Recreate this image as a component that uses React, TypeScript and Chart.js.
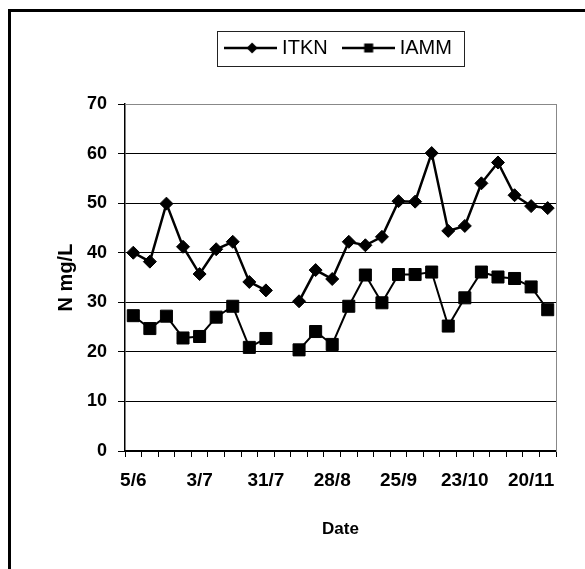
import React, { useEffect, useRef } from 'react';
import { Chart, registerables } from 'chart.js';

Chart.register(...registerables);

// Weekly sampling dates (category axis)
const dates = [
  '5/6', '12/6', '19/6', '26/6', '3/7', '10/7', '17/7', '24/7', '31/7', '7/8',
  '14/8', '21/8', '28/8', '4/9', '11/9', '18/9', '25/9', '2/10', '9/10', '16/10',
  '23/10', '30/10', '6/11', '13/11', '20/11', '27/11',
];

// N mg/L
const itkn = [
  40.0, 38.2, 49.9, 41.2, 35.7, 40.7, 42.2, 34.1, 32.4, null,
  30.2, 36.5, 34.7, 42.2, 41.5, 43.2, 50.4, 50.3, 60.1, 44.4,
  45.4, 54.0, 58.2, 51.6, 49.4, 49.0,
];
const iamm = [
  27.3, 24.7, 27.2, 22.8, 23.1, 27.0, 29.2, 20.9, 22.7, null,
  20.4, 24.1, 21.5, 29.2, 35.5, 29.9, 35.6, 35.6, 36.1, 25.2,
  30.9, 36.1, 35.1, 34.8, 33.1, 28.5,
];

const seriesNames = ['ITKN', 'IAMM'];
const yMin = 0;
const yMax = 70;
const yStep = 10;
const labelEvery = 4;
const xTitle = 'Date';
const yTitle = 'N mg/L';

const FONT = "'Liberation Sans', Arial, Helvetica, sans-serif";

function makeIcon(kind: 'diamond' | 'square', lw: number): HTMLCanvasElement {
  const c = document.createElement('canvas');
  c.width = 53;
  c.height = 14;
  const g = c.getContext('2d')!;
  g.strokeStyle = '#000';
  g.lineWidth = lw;
  g.beginPath();
  g.moveTo(0, 7);
  g.lineTo(53, 7);
  g.stroke();
  g.fillStyle = '#000';
  if (kind === 'diamond') {
    g.beginPath();
    g.moveTo(28, 1.5);
    g.lineTo(33.5, 7);
    g.lineTo(28, 12.5);
    g.lineTo(22.5, 7);
    g.closePath();
    g.fill();
  } else {
    g.fillRect(22.5, 2.5, 9, 9);
  }
  return c;
}

const framePlugin = {
  id: 'frame',
  beforeDraw(chart: any) {
    const ctx = chart.ctx;
    ctx.save();
    ctx.fillStyle = '#fff';
    ctx.fillRect(0, 0, chart.width, chart.height);
    ctx.fillStyle = '#000';
    ctx.fillRect(8, 9, 3, chart.height - 9);
    ctx.fillRect(8, 9, chart.width - 8, 3);
    ctx.restore();
  },
  afterDraw(chart: any) {
    const lg = chart.legend;
    if (!lg || !lg.legendHitBoxes || !lg.legendHitBoxes.length) return;
    const hbs = lg.legendHitBoxes;
    const first = hbs[0];
    const last = hbs[hbs.length - 1];
    const left = first.left - 12;
    const right = last.left + last.width + 12;
    const top = first.top - 7.5;
    const bottom = first.top + first.height + 7.5;
    const ctx = chart.ctx;
    ctx.save();
    ctx.strokeStyle = '#222';
    ctx.lineWidth = 1;
    ctx.strokeRect(Math.round(left) + 0.5, Math.round(top) + 0.5, Math.round(right - left), Math.round(bottom - top));
    ctx.restore();
  },
};

export default function App() {
  const ref = useRef<HTMLCanvasElement | null>(null);

  useEffect(() => {
    if (!ref.current) return;
    const icons = [makeIcon('diamond', 2.5), makeIcon('square', 2.5)];
    const chart = new Chart(ref.current, {
      type: 'line',
      data: {
        labels: dates,
        datasets: [
          {
            label: seriesNames[0],
            data: itkn,
            borderColor: '#000',
            backgroundColor: '#000',
            borderWidth: 2.5,
            pointStyle: 'rectRot',
            pointRadius: 6.5,
            pointBorderWidth: 1,
            pointBackgroundColor: '#000',
            pointBorderColor: '#000',
            tension: 0,
            spanGaps: false,
          },
          {
            label: seriesNames[1],
            data: iamm,
            borderColor: '#000',
            backgroundColor: '#000',
            borderWidth: 2,
            pointStyle: 'rect',
            pointRadius: 8.5,
            pointBorderWidth: 1,
            pointBackgroundColor: '#000',
            pointBorderColor: '#000',
            tension: 0,
            spanGaps: false,
          },
        ],
      },
      options: {
        responsive: false,
        animation: false,
        devicePixelRatio: 1,
        layout: { padding: { top: 19, left: 0, right: 0, bottom: 0 } },
        plugins: {
          title: { display: false },
          tooltip: { enabled: false },
          legend: {
            display: true,
            position: 'top',
            fullSize: false,
            labels: {
              color: '#000',
              font: { family: FONT, size: 20, weight: 'normal' },
              usePointStyle: true,
              pointStyleWidth: 43,
              padding: 19,
              generateLabels(c: any) {
                const items = (Chart.defaults.plugins.legend.labels as any).generateLabels(c);
                items.forEach((it: any, i: number) => {
                  it.pointStyle = icons[i];
                });
                return items;
              },
            },
          },
        },
        scales: {
          x: {
            type: 'category',
            position: 'bottom',
            offset: true,
            grid: {
              display: true,
              offset: true,
              drawOnChartArea: false,
              drawTicks: true,
              tickLength: 6,
              tickColor: '#000',
              tickWidth: 1,
            },
            border: { display: true, color: '#000', width: 1.5 },
            ticks: {
              autoSkip: false,
              maxRotation: 0,
              minRotation: 0,
              padding: 12,
              color: '#000',
              font: { family: FONT, size: 19, weight: 'bold' },
              callback(this: any, _v: any, index: number) {
                return index % labelEvery === 0 ? dates[index] : '';
              },
            },
            title: {
              display: true,
              text: xTitle,
              color: '#000',
              font: { family: FONT, size: 17, weight: 'bold' },
              padding: { top: 0, bottom: 29 },
            },
            afterFit(s: any) {
              s.height = 118;
            },
          },
          y: {
            type: 'linear',
            position: 'left',
            min: yMin,
            max: yMax,
            ticks: {
              stepSize: yStep,
              padding: 11,
              color: '#000',
              font: { family: FONT, size: 18, weight: 'bold' },
            },
            grid: {
              display: true,
              drawOnChartArea: true,
              drawTicks: true,
              tickLength: 7,
              tickColor: '#000',
              lineWidth: 1,
              color: (ctx: any) =>
                ctx.tick && ctx.tick.value === yMax ? 'rgba(0,0,0,0)' : '#000',
            },
            border: { display: true, color: '#000', width: 1.5 },
            title: {
              display: true,
              text: yTitle,
              color: '#000',
              font: { family: FONT, size: 20, weight: 'bold' },
              padding: { top: 54, bottom: 0 },
            },
            afterFit(s: any) {
              s.width = 125;
            },
          },
          xTop: {
            type: 'linear',
            position: 'top',
            display: true,
            min: 0,
            max: 1,
            ticks: { display: false },
            grid: { display: false, drawTicks: false },
            border: { display: true, color: '#888', width: 1, dash: [2, 2] },
            afterFit(s: any) {
              s.height = 36;
            },
          },
          yRight: {
            type: 'linear',
            position: 'right',
            display: true,
            min: 0,
            max: 1,
            ticks: { display: false },
            grid: { display: false, drawTicks: false },
            border: { display: true, color: '#888', width: 1, dash: [2, 2] },
            afterFit(s: any) {
              s.width = 29;
            },
          },
        },
      } as any,
      plugins: [framePlugin],
    });
    return () => {
      chart.destroy();
    };
  }, []);

  return (
    <canvas
      ref={ref}
      width={585}
      height={569}
      style={{ position: 'absolute', left: 0, top: 0, width: 585, height: 569, display: 'block' }}
    />
  );
}
